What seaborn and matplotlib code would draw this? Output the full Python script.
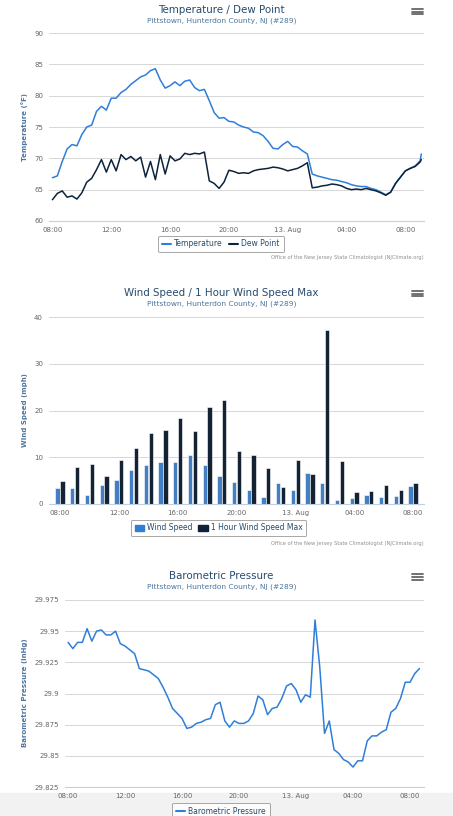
import pandas as pd
import matplotlib
matplotlib.use('Agg')
import matplotlib.pyplot as plt
from matplotlib.lines import Line2D
from matplotlib.patches import Patch, Rectangle
import seaborn as sns

# --- Data (20 minute readings) ---
temp_times = list(pd.date_range('2024-08-12 08:00', periods=76, freq='20min')) + [pd.Timestamp('2024-08-13 09:05')]
temperature = [66.9, 67.2, 69.5, 71.5, 72.2, 72.0, 73.8, 75.0, 75.3, 77.5,
               78.3, 77.7, 79.6, 79.6, 80.5, 81.0, 81.8, 82.4, 83.0, 83.3,
               84.0, 84.3, 82.5, 81.2, 81.6, 82.2, 81.6, 82.3, 82.5, 81.3,
               80.8, 81.0, 79.2, 77.3, 76.4, 76.5, 75.9, 75.8, 75.3, 75.0,
               74.8, 74.2, 74.1, 73.6, 72.7, 71.6, 71.5, 72.2, 72.7, 71.9,
               71.8, 71.2, 70.7, 67.5, 67.2, 67.0, 66.8, 66.6, 66.5, 66.3,
               66.1, 65.8, 65.6, 65.5, 65.5, 65.2, 65.0, 64.6, 64.2, 64.6,
               66.0, 67.0, 68.0, 68.4, 68.8, 69.6, 70.7]
dew_point = [63.4, 64.4, 64.8, 63.8, 64.0, 63.5, 64.5, 66.2, 66.8, 68.2,
             69.8, 67.8, 69.8, 68.0, 70.6, 69.8, 70.3, 69.6, 70.2, 67.0,
             69.5, 66.6, 70.6, 67.5, 70.4, 69.6, 69.9, 70.8, 70.6, 70.8,
             70.7, 71.0, 66.4, 66.0, 65.2, 66.2, 68.1, 67.9, 67.6, 67.7,
             67.6, 68.0, 68.2, 68.3, 68.4, 68.6, 68.5, 68.3, 68.0, 68.2,
             68.4, 68.8, 69.3, 65.3, 65.4, 65.6, 65.7, 65.9, 65.8, 65.6,
             65.2, 65.0, 65.1, 65.0, 65.2, 65.0, 64.8, 64.5, 64.1, 64.6,
             66.0, 67.0, 68.0, 68.4, 68.7, 69.4, 69.8]

wind_hours = [f'{t:%d %H:%M}' for t in pd.date_range('2024-08-12 08:00', periods=25, freq='h')]
wind_speed = [3.4, 3.4, 1.9, 4.1, 5.1, 7.2, 8.4, 9.0, 8.9, 10.4, 8.4, 6.0, 4.8,
              3.1, 1.6, 4.4, 3.1, 6.6, 4.4, 0.9, 1.3, 2.0, 1.6, 1.8, 3.8]
wind_max = [4.9, 7.9, 8.5, 6.0, 9.4, 12.0, 15.1, 15.9, 18.4, 15.6, 20.8, 22.2, 11.3,
            10.4, 7.6, 3.7, 9.4, 6.4, 37.3, 9.2, 2.5, 2.8, 4.1, 3.0, 4.4]

pres_times = list(pd.date_range('2024-08-12 08:00', periods=75, freq='20min'))
pressure = [29.941, 29.936, 29.941, 29.941, 29.952, 29.942, 29.950, 29.951, 29.947, 29.947,
            29.950, 29.940, 29.938, 29.935, 29.932, 29.920, 29.919, 29.918, 29.915, 29.912,
            29.905, 29.897, 29.888, 29.884, 29.880, 29.872, 29.873, 29.876, 29.877, 29.879,
            29.880, 29.891, 29.893, 29.878, 29.873, 29.878, 29.876, 29.876, 29.878, 29.884,
            29.898, 29.895, 29.883, 29.888, 29.889, 29.896, 29.906, 29.908, 29.903, 29.893,
            29.899, 29.897, 29.959, 29.921, 29.868, 29.878, 29.855, 29.852, 29.847, 29.845,
            29.841, 29.846, 29.846, 29.862, 29.866, 29.866, 29.869, 29.871, 29.885, 29.888,
            29.896, 29.909, 29.909, 29.916, 29.920]

tick_times = pd.to_datetime(['2024-08-12 08:00', '2024-08-12 12:00', '2024-08-12 16:00',
                             '2024-08-12 20:00', '2024-08-13 00:00', '2024-08-13 04:00',
                             '2024-08-13 08:00'])
tick_labels = ['08:00', '12:00', '16:00', '20:00', '13. Aug', '04:00', '08:00']

# --- Colours ---
BLUE = '#2f7ed8'
NAVY = '#0d233a'
TITLE_C = '#274b6d'
SUB_C = '#4d759e'
GRID = '#d8d8d8'
AXIS = '#c0d0e0'
LABEL_C = '#666666'

sns.set_style('white')
plt.rcParams['font.family'] = ['DejaVu Sans']

W, H = 453, 816
fig = plt.figure(figsize=(W / 100, H / 100), dpi=100)

# light grey band at the very bottom of the page
fig.patches.append(Rectangle((0, 0), 1, 23 / H, transform=fig.transFigure,
                             color='#f2f2f2', zorder=-5))


def px_axes(l, t, r, b):
    return fig.add_axes([l / W, 1 - b / H, (r - l) / W, (b - t) / H])


def style(ax, yticks, ylabels):
    ax.set_yticks(yticks)
    ax.set_yticklabels(ylabels)
    ax.set_ylim(yticks[0], yticks[-1])
    ax.grid(axis='y', color=GRID, lw=0.75)
    ax.grid(axis='x', visible=False)
    ax.set_axisbelow(True)
    for s in ['left', 'right', 'top']:
        ax.spines[s].set_visible(False)
    ax.spines['bottom'].set_color(AXIS)
    ax.spines['bottom'].set_linewidth(0.8)
    ax.tick_params(axis='y', length=0, pad=4.3, labelsize=5, labelcolor=LABEL_C)
    ax.tick_params(axis='x', length=3.2, width=0.7, color=AXIS, pad=1,
                   labelsize=5, labelcolor=LABEL_C)
    ax.set_xlabel('')
    ax.set_ylabel('')


def header(title, subtitle, y_title, y_sub, y_menu):
    fig.text(221.5 / W, 1 - y_title / H, title, ha='center', va='center',
             fontsize=7.4, color=TITLE_C)
    fig.text(221.5 / W, 1 - y_sub / H, subtitle, ha='center', va='center',
             fontsize=5.4, color=SUB_C)
    for dy in (-2.6, 0, 2.6):
        fig.add_artist(Line2D([412 / W, 423 / W], [1 - (y_menu + dy) / H] * 2,
                              color='#666666', lw=1.3, transform=fig.transFigure))


def legend(handles, labels, x, y):
    leg = fig.legend(handles, labels, loc='center', bbox_to_anchor=(x / W, 1 - y / H),
                     ncol=len(labels), fontsize=5.5, frameon=True, fancybox=True,
                     handlelength=1.2, handleheight=0.8, handletextpad=0.4,
                     columnspacing=0.8, borderpad=0.5)
    leg.get_frame().set_edgecolor('#909090')
    leg.get_frame().set_linewidth(0.7)
    for t in leg.get_texts():
        t.set_color(TITLE_C)
    return leg


def credit(y):
    fig.text(424 / W, 1 - y / H, 'Office of the New Jersey State Climatologist (NJClimate.org)',
             ha='right', va='center', fontsize=3.7, color='#909090')


def ylabel(text, y):
    fig.text(25 / W, 1 - y / H, text, rotation=90, ha='center', va='center',
             fontsize=5, fontweight='bold', color=SUB_C)


# --- Panel 1: Temperature / Dew Point ---
ax1 = px_axes(49, 33, 424, 221)
df_t = pd.DataFrame({'time': temp_times * 2,
                     'value': temperature + dew_point,
                     'series': ['Temperature'] * len(temperature) + ['Dew Point'] * len(dew_point)})
sns.lineplot(data=df_t, x='time', y='value', hue='series', palette=[BLUE, NAVY],
             estimator=None, linewidth=1.1, legend=False, ax=ax1)
style(ax1, [60, 65, 70, 75, 80, 85, 90], ['60', '65', '70', '75', '80', '85', '90'])
ax1.set_xlim(pd.Timestamp('2024-08-12 07:46'), pd.Timestamp('2024-08-13 09:16'))
ax1.set_xticks(tick_times)
ax1.set_xticklabels(tick_labels)
header('Temperature / Dew Point', 'Pittstown, Hunterdon County, NJ (#289)', 10, 21, 11.5)
ylabel('Temperature (°F)', 127)
legend([Line2D([], [], color=BLUE, lw=1.5), Line2D([], [], color=NAVY, lw=1.5)],
       ['Temperature', 'Dew Point'], 221, 244)
credit(258)

# --- Panel 2: Wind Speed ---
ax2 = px_axes(49, 317, 424, 504)
df_w = pd.DataFrame({'hour': wind_hours * 2,
                     'value': wind_speed + wind_max,
                     'series': ['Wind Speed'] * len(wind_speed) + ['1 Hour Wind Speed Max'] * len(wind_max)})
sns.barplot(data=df_w, x='hour', y='value', hue='series', palette=[BLUE, NAVY],
            width=0.66, gap=0.12, errorbar=None, edgecolor='white', linewidth=0.4,
            legend=False, ax=ax2)
style(ax2, [0, 10, 20, 30, 40], ['0', '10', '20', '30', '40'])
ax2.set_xlim(-0.75, 24.75)
ax2.set_xticks(range(0, 25, 4))
ax2.set_xticklabels(tick_labels)
header('Wind Speed / 1 Hour Wind Speed Max', 'Pittstown, Hunterdon County, NJ (#289)', 293, 304, 293.5)
ylabel('Wind Speed (mph)', 410)
legend([Patch(color=BLUE), Patch(color=NAVY)],
       ['Wind Speed', '1 Hour Wind Speed Max'], 218.5, 528)
credit(543)

# --- Panel 3: Barometric Pressure ---
ax3 = px_axes(65, 600, 424, 787)
df_p = pd.DataFrame({'time': pres_times, 'value': pressure})
sns.lineplot(data=df_p, x='time', y='value', color=BLUE, estimator=None,
             linewidth=1.1, ax=ax3)
style(ax3, [29.825, 29.85, 29.875, 29.9, 29.925, 29.95, 29.975],
      ['29.825', '29.85', '29.875', '29.9', '29.925', '29.95', '29.975'])
ax3.set_xlim(pd.Timestamp('2024-08-12 07:47'), pd.Timestamp('2024-08-13 08:59'))
ax3.set_xticks(tick_times)
ax3.set_xticklabels(tick_labels)
header('Barometric Pressure', 'Pittstown, Hunterdon County, NJ (#289)', 576, 587, 577)
ylabel('Barometric Pressure (inHg)', 693)
legend([Line2D([], [], color=BLUE, lw=1.5)], ['Barometric Pressure'], 221, 811)

fig.savefig('out.png', dpi=100)
